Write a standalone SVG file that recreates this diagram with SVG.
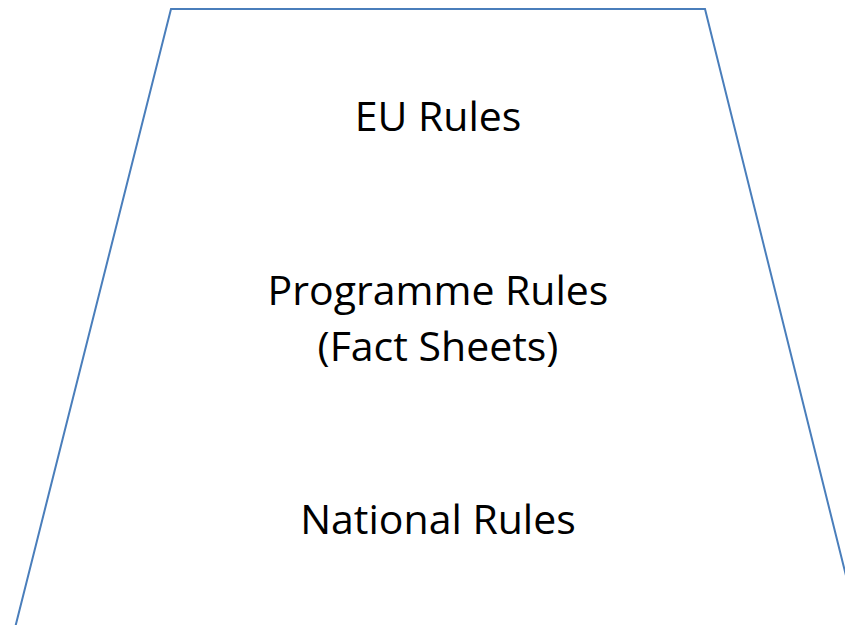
<svg xmlns="http://www.w3.org/2000/svg" width="845" height="625" viewBox="0 0 845 625">
<style>
.t{font-family:"Open Sans","Liberation Sans",sans-serif;font-size:41px;fill:#000;text-anchor:middle}
</style>
<rect width="845" height="625" fill="#fff"/>
<g id="trapezoid">
<polygon points="171,9 705,9 859,628 15,628" fill="none" stroke="#4a7ebb" stroke-width="2"/>
</g>
<g id="eu"><text class="t" x="438" y="131">EU Rules</text></g>
<g id="programme"><text class="t" x="438" y="305">Programme Rules</text><text class="t" x="438" y="361">(Fact Sheets)</text></g>
<g id="national"><text class="t" x="438" y="534">National Rules</text></g>
</svg>
